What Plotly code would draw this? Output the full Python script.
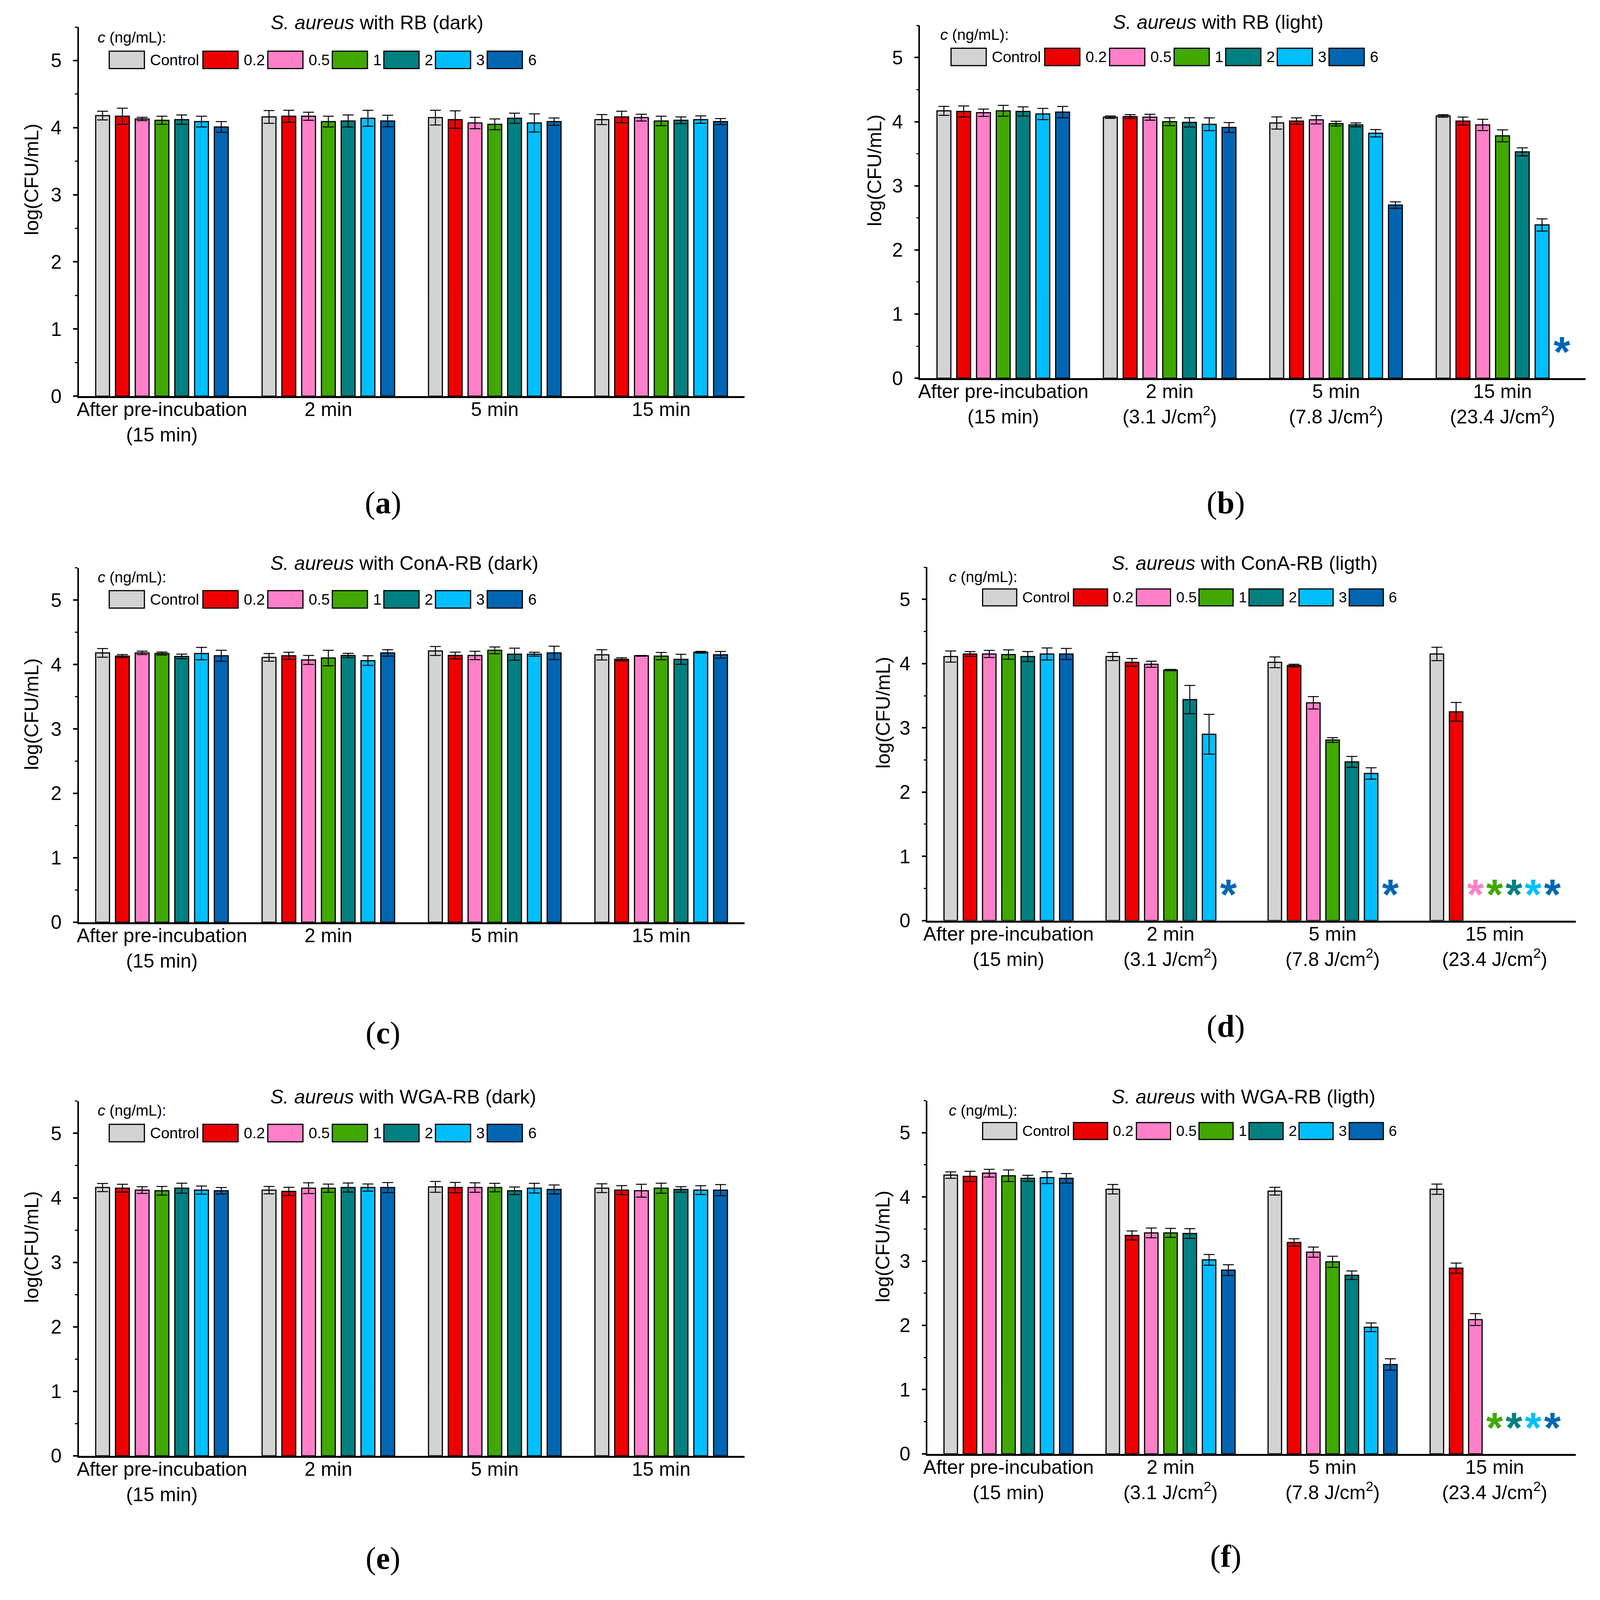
import plotly.graph_objects as go

# reference frame used for the layout numbers below (figure fills the window)
W, H = 4132, 4287
FONT = "Liberation Sans, Arial, sans-serif"

conc = ["Control", "0.2", "0.5", "1", "2", "3", "6"]
colors = ["#D3D3D3", "#EE0000", "#FF80C8", "#40A800", "#008080", "#00BFFF", "#0066B2"]

times_dark = ["After pre-incubation<br>(15 min)", "2 min", "5 min", "15 min"]
times_light = ["After pre-incubation<br>(15 min)", "2 min<br>(3.1 J/cm<sup>2</sup>)",
               "5 min<br>(7.8 J/cm<sup>2</sup>)", "15 min<br>(23.4 J/cm<sup>2</sup>)"]

# log(CFU/mL); one row per concentration, one column per time point
# None = no colonies (marked with an asterisk)
a_mean = [[4.18, 4.16, 4.15, 4.12], [4.17, 4.17, 4.12, 4.16], [4.13, 4.17, 4.07, 4.15],
          [4.11, 4.09, 4.05, 4.10], [4.12, 4.10, 4.14, 4.11], [4.09, 4.14, 4.07, 4.12],
          [4.01, 4.10, 4.09, 4.09]]
a_err = [[0.065, 0.095, 0.11, 0.075], [0.12, 0.09, 0.13, 0.085], [0.025, 0.06, 0.085, 0.05],
         [0.06, 0.08, 0.08, 0.07], [0.07, 0.09, 0.075, 0.05], [0.08, 0.12, 0.135, 0.055],
         [0.08, 0.085, 0.055, 0.045]]

b_mean = [[4.17, 4.07, 3.98, 4.09], [4.16, 4.08, 4.01, 4.01], [4.14, 4.07, 4.03, 3.95],
          [4.17, 4.00, 3.97, 3.78], [4.16, 3.99, 3.95, 3.53], [4.12, 3.96, 3.82, 2.39],
          [4.15, 3.91, 2.70, None]]
b_err = [[0.07, 0.018, 0.095, 0.02], [0.085, 0.03, 0.05, 0.062], [0.057, 0.046, 0.065, 0.088],
         [0.085, 0.062, 0.036, 0.093], [0.072, 0.072, 0.03, 0.062], [0.088, 0.1, 0.057, 0.095],
         [0.088, 0.077, 0.05, None]]

c_mean = [[4.18, 4.11, 4.21, 4.15], [4.13, 4.135, 4.14, 4.08], [4.18, 4.07, 4.14, 4.135],
          [4.17, 4.10, 4.22, 4.13], [4.125, 4.14, 4.16, 4.08], [4.17, 4.06, 4.16, 4.19],
          [4.135, 4.18, 4.18, 4.15]]
c_err = [[0.068, 0.06, 0.07, 0.08], [0.023, 0.055, 0.052, 0.023], [0.026, 0.07, 0.065, 0.005],
         [0.023, 0.12, 0.052, 0.057], [0.036, 0.034, 0.094, 0.078], [0.096, 0.075, 0.03, 0.013],
         [0.086, 0.05, 0.104, 0.052]]

d_mean = [[4.11, 4.11, 4.02, 4.15], [4.15, 4.02, 3.97, 3.25], [4.15, 3.99, 3.39, None],
          [4.14, 3.90, 2.81, None], [4.11, 3.44, 2.47, None], [4.15, 2.90, 2.29, None],
          [4.15, None, None, None]]
d_err = [[0.086, 0.063, 0.084, 0.104], [0.037, 0.06, 0.02, 0.146], [0.055, 0.047, 0.097, None],
         [0.073, 0.01, 0.037, None], [0.078, 0.22, 0.084, None], [0.094, 0.31, 0.089, None],
         [0.086, None, None, None]]

e_mean = [[4.16, 4.12, 4.17, 4.15], [4.15, 4.10, 4.16, 4.12], [4.12, 4.15, 4.16, 4.11],
          [4.11, 4.15, 4.16, 4.15], [4.15, 4.16, 4.11, 4.13], [4.12, 4.16, 4.15, 4.12],
          [4.11, 4.16, 4.13, 4.12]]
e_err = [[0.063, 0.058, 0.084, 0.068], [0.06, 0.063, 0.08, 0.07], [0.052, 0.084, 0.073, 0.1],
         [0.068, 0.063, 0.066, 0.078], [0.078, 0.07, 0.058, 0.042], [0.063, 0.055, 0.076, 0.068],
         [0.05, 0.078, 0.07, 0.086]]

f_mean = [[4.34, 4.12, 4.09, 4.12], [4.32, 3.40, 3.29, 2.89], [4.37, 3.44, 3.14, 2.09],
          [4.33, 3.44, 2.99, None], [4.29, 3.43, 2.78, None], [4.30, 3.02, 1.97, None],
          [4.29, 2.86, 1.39, None]]
f_err = [[0.05, 0.074, 0.06, 0.08], [0.08, 0.07, 0.058, 0.08], [0.06, 0.076, 0.079, 0.092],
         [0.09, 0.07, 0.087, None], [0.047, 0.076, 0.066, None], [0.092, 0.084, 0.068, None],
         [0.074, 0.084, 0.089, None]]

# %% layout constants (pixel positions in the 4132x4287 reference frame)

BARGAP = 0.168
BARGROUPGAP = 0.3
ASTERISK_Y = 0.35
LEG_DX = [0, 242.5, 410.5, 577.5, 711, 844.5, 978.5]
SW_W, SW_H, TXT_DX = 91, 47, 103.5

panels = [
    dict(mean=a_mean, err=a_err, cats=times_dark, title="<i>S. aureus</i> with RB (dark)", letter="a",
         box=(193.7, 1917, 1069, 72.8), title_at=(966, 61), c_at=(241, 101),
         leg_at=(272.7, 161.6, 1.0), ytitle_at=(72, 484), letter_at=(981.5, 1357)),
    dict(mean=b_mean, err=b_err, cats=times_light, title="<i>S. aureus</i> with RB (light)", letter="b",
         box=(2371.7, 4095, 1020.5, 68.9), title_at=(3143.7, 60), c_at=(2422, 93),
         leg_at=(2452, 153.6, 1.0), ytitle_at=(2254, 460), letter_at=(3163.5, 1357)),
    dict(mean=c_mean, err=c_err, cats=times_dark, title="<i>S. aureus</i> with ConA-RB (dark)", letter="c",
         box=(193.7, 1917, 2488.6, 1532.3), title_at=(1037, 1519.6), c_at=(241, 1557.7),
         leg_at=(272.7, 1617.4, 1.0), ytitle_at=(72, 1927), letter_at=(981.5, 2787.6)),
    dict(mean=d_mean, err=d_err, cats=times_light, title="<i>S. aureus</i> with ConA-RB (ligth)", letter="d",
         box=(2391, 4069, 2484.1, 1530.7), title_at=(3212, 1519.6), c_at=(2444, 1555.9),
         leg_at=(2533.7, 1612, 0.97), ytitle_at=(2276, 1923.6), letter_at=(3163.5, 2769.6)),
    dict(mean=e_mean, err=e_err, cats=times_dark, title="<i>S. aureus</i> with WGA-RB (dark)", letter="e",
         box=(193.7, 1917, 3928.4, 2971.4), title_at=(1033.6, 2960), c_at=(241, 2996.5),
         leg_at=(272.7, 3057.5, 1.0), ytitle_at=(72, 3365), letter_at=(981.5, 4205)),
    dict(mean=f_mean, err=f_err, cats=times_light, title="<i>S. aureus</i> with WGA-RB (ligth)", letter="f",
         box=(2391, 4069, 3923, 2970), title_at=(3209.6, 2960), c_at=(2444, 2996.5),
         leg_at=(2533.7, 3052, 0.97), ytitle_at=(2276, 3364), letter_at=(3163.5, 4200)),
]


def px(x):
    return x / W


def py(y):
    return 1 - y / H


fig = go.Figure()
annotations = []
shapes = []

for i, p in enumerate(panels, start=1):
    xa = "x" if i == 1 else "x%d" % i
    ya = "y" if i == 1 else "y%d" % i
    pos = list(range(len(p["cats"])))

    for k, name in enumerate(conc):
        fig.add_trace(go.Bar(x=pos, y=p["mean"][k], name=name,
                             marker=dict(color=colors[k], line=dict(color="black", width=3)),
                             error_y=dict(type="data", array=p["err"][k], color="black",
                                          thickness=2.5, width=14),
                             xaxis=xa, yaxis=ya, showlegend=False))

    # asterisks where no colonies were counted
    slot = (1 - BARGAP) / len(conc)
    sx, sc = [], []
    for k in range(len(conc)):
        for g in pos:
            if p["mean"][k][g] is None:
                sx.append(g + (k - (len(conc) - 1) / 2) * slot)
                sc.append(colors[k])
    if sx:
        fig.add_trace(go.Scatter(x=sx, y=[ASTERISK_Y] * len(sx), mode="text", text=["*"] * len(sx),
                                 textposition="middle center",
                                 textfont=dict(color=sc, size=110, family=FONT, weight="bold"),
                                 xaxis=xa, yaxis=ya, showlegend=False, cliponaxis=False))

    x0, x1, ybot, ytop = p["box"]
    fig.layout["xaxis" if i == 1 else "xaxis%d" % i] = dict(
        domain=[px(x0), px(x1)], anchor=ya, range=[-0.5, 3.5],
        tickvals=pos, ticktext=p["cats"], ticks="", showgrid=False, zeroline=False,
        showline=True, linecolor="black", linewidth=5,
        tickfont=dict(size=50, color="black", family=FONT), ticklabelstandoff=-14)
    fig.layout["yaxis" if i == 1 else "yaxis%d" % i] = dict(
        domain=[py(ybot), py(ytop)], anchor=xa, range=[0, 5.5],
        tickvals=[0, 1, 2, 3, 4, 5], ticks="outside", ticklen=11, tickwidth=4, tickcolor="black",
        minor=dict(dtick=0.5, ticks="outside", ticklen=6, tickwidth=3, tickcolor="black"),
        showgrid=False, zeroline=False, showline=True, linecolor="black", linewidth=3.5,
        tickfont=dict(size=50, color="black", family=FONT), ticklabelstandoff=19)

    tx, ty = p["title_at"]
    annotations.append(dict(x=px(tx), y=py(ty), xref="paper", yref="paper", text=p["title"],
                            showarrow=False, xanchor="center", yanchor="middle",
                            font=dict(size=50, color="black", family=FONT)))
    cx, cy = p["c_at"]
    annotations.append(dict(x=px(cx), y=py(cy), xref="paper", yref="paper", text="<i>c</i> (ng/mL):",
                            showarrow=False, xanchor="left", yanchor="middle",
                            font=dict(size=39, color="black", family=FONT)))
    yx, yy = p["ytitle_at"]
    annotations.append(dict(x=px(yx), y=py(yy), xref="paper", yref="paper", text="log(CFU/mL)",
                            textangle=-90, showarrow=False, xanchor="center", yanchor="middle",
                            font=dict(size=50, color="black", family=FONT)))
    lx, ly = p["letter_at"]
    annotations.append(dict(x=px(lx), y=py(ly), xref="paper", yref="paper",
                            text="(<b>%s</b>)" % p["letter"], showarrow=False,
                            xanchor="center", yanchor="middle",
                            font=dict(size=80, color="black", family="Liberation Serif, Times New Roman, serif")))

    # legend drawn by hand: wide Origin-style swatches
    gx, gy, s = p["leg_at"]
    for k, name in enumerate(conc):
        left = gx + LEG_DX[k] * s
        shapes.append(dict(type="rect", xref="paper", yref="paper",
                           x0=px(left), x1=px(left + SW_W * s),
                           y0=py(gy + SW_H * s / 2), y1=py(gy - SW_H * s / 2),
                           fillcolor=colors[k], line=dict(color="black", width=3)))
        annotations.append(dict(x=px(left + TXT_DX * s), y=py(gy), xref="paper", yref="paper",
                                text=name, showarrow=False, xanchor="left", yanchor="middle",
                                font=dict(size=39 * s, color="black", family=FONT)))

fig.update_layout(
    autosize=True, margin=dict(l=0, r=0, t=0, b=0),
    barmode="group", bargap=BARGAP, bargroupgap=BARGROUPGAP,
    plot_bgcolor="white", paper_bgcolor="white",
    font=dict(family=FONT, color="black"),
    annotations=annotations, shapes=shapes,
)

# the figure fills the visible window, so nothing falls below its lower edge
fig.write_html("out.html", default_width="100vw", default_height="100vh",
               config={"displayModeBar": False, "responsive": True},
               post_script="document.body.style.margin='0';document.body.style.overflow='hidden';")
